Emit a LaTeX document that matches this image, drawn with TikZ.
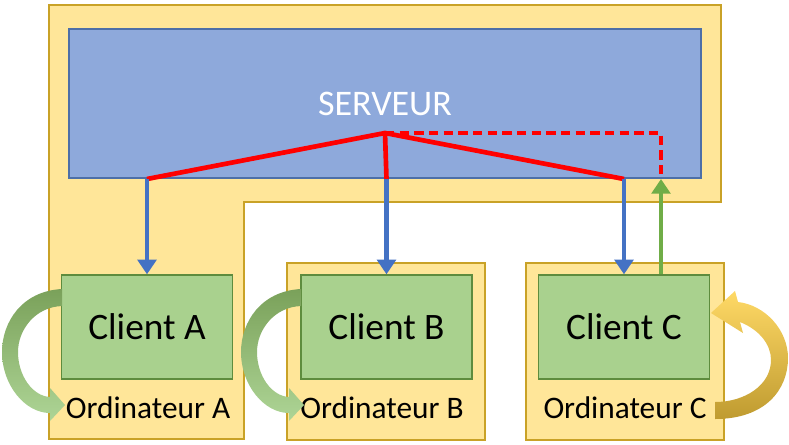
\documentclass[tikz,border=0pt]{standalone}
\usepackage{fontspec}
\setmainfont{Carlito}
\usetikzlibrary{arrows.meta,positioning}
\definecolor{pcfill}{HTML}{FFE699}
\definecolor{pcedge}{HTML}{C9A227}
\definecolor{srvfill}{HTML}{8EA9DB}
\definecolor{srvedge}{HTML}{4D6FA8}
\definecolor{clfill}{HTML}{A9D18E}
\definecolor{cledge}{HTML}{5E8C3E}
\definecolor{down}{HTML}{4472C4}
\definecolor{up}{HTML}{70AD47}
\definecolor{curltop}{HTML}{7AA15A}
\definecolor{curlbot}{HTML}{AED596}
\definecolor{backtop}{HTML}{FFD966}
\definecolor{backbot}{HTML}{BF9B30}
\tikzset{
  pc/.style={draw=pcedge,fill=pcfill,line width=1.5pt,minimum width=148.5pt,
             minimum height=132.75pt,inner sep=0pt},
  client/.style={draw=cledge,fill=clfill,line width=1pt,minimum width=128.25pt,
                 minimum height=78pt,inner sep=0pt,font=\fontsize{28}{31}\selectfont},
  pclbl/.style={inner sep=0pt,font=\fontsize{23.5}{26}\selectfont},
  toclient/.style={draw=down,line width=3.5pt,-{Triangle[width=14pt,length=11pt]}},
  toserver/.style={draw=up,line width=3.5pt,-{Triangle[width=14pt,length=11pt]}},
  link/.style={draw=red,line width=3.5pt},
}
\begin{document}
\begin{tikzpicture}[x=0.75pt,y=-0.75pt]
  \useasboundingbox (0,0) rectangle (789,444);
  % server machine and Ordinateur A share one outline
  \draw[pcedge,fill=pcfill,line width=1.5pt] (49,5) -- (721,5) -- (721,202)
    -- (244,202) -- (244,439) -- (49,439) -- cycle;
  \node[pc] (pcb) at (386,351.5) {};
  \node[pc] (pcc) at (624.5,351.5) {};
  \node[draw=srvedge,fill=srvfill,line width=1.5pt,minimum width=474pt,
        minimum height=111.75pt,text=white,font=\fontsize{27}{30}\selectfont]
        (srv) at (385,103.5) {SERVEUR};
  \node[client] (cla) at (147,327) {Client A};
  \node[client] (clb) at (386.5,327) {Client B};
  \node[client] (clc) at (624,327) {Client C};
  \node[pclbl] (pcal) at (148,408) {Ordinateur A};
  \node[pclbl] (pcbl) at (382,408) {Ordinateur B};
  \node[pclbl] (pccl) at (625,408) {Ordinateur C};
  % curled arrows
  \foreach \dx in {0,239}{
    \begin{scope}[shift={(\dx,0)}]
      \shade[top color=curltop,bottom color=curlbot] (62,289)
        .. controls (22,291) and (2,322) .. (2,352)
        .. controls (2,385) and (25,413) .. (50,413) -- (50,421) -- (65,405)
        -- (50,388) -- (50,397) .. controls (32,396) and (18,375) .. (18,352)
        .. controls (18,330) and (35,307) .. (62,306) -- cycle;
    \end{scope}
  }
  \shade[top color=backtop,bottom color=backbot] (715,419)
    .. controls (765,419) and (788,390) .. (788,358)
    .. controls (788,330) and (765,305) .. (738,302) -- (735,291) -- (711,313)
    -- (743,333) -- (740,322) .. controls (760,330) and (771,345) .. (771,360)
    .. controls (771,385) and (745,402) .. (715,402) -- cycle;
  % links
  \coordinate (apex) at (385,133);
  \coordinate (ret) at (661,133);
  \draw[link] (srv.south -| cla) -- (apex) -- (srv.south -| clc);
  \draw[link] (apex) -- (srv.south -| clb);
  \draw[link,dashed,dash pattern=on 7pt off 4pt] (apex) -- (ret) -- (srv.south -| ret);
  \draw[toclient] (srv.south -| cla) -- (cla.north);
  \draw[toclient] (srv.south -| clb) -- (clb.north);
  \draw[toclient] (srv.south -| clc) -- (clc.north);
  \draw[toserver] (clc.north -| ret) -- (srv.south -| ret);
\end{tikzpicture}
\end{document}
